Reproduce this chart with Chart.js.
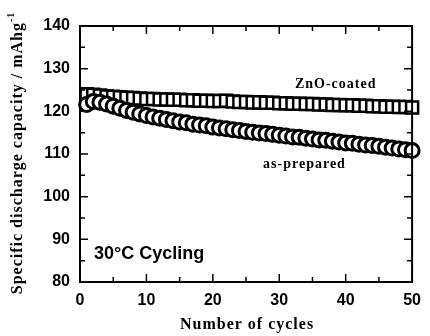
<!DOCTYPE html>
<html>
<head>
<meta charset="utf-8">
<script src="https://cdn.jsdelivr.net/npm/chart.js@4/dist/chart.umd.min.js"></script>
<style>
  html, body { margin: 0; padding: 0; background: #fff; }
  #wrap { width: 430px; height: 336px; position: relative; }
</style>
</head>
<body>
<div id="wrap"><canvas id="chart"></canvas></div>
<script>
// cycle numbers and discharge capacity (mAh/g)
const cycles = [1,2,3,4,5,6,7,8,9,10,11,12,13,14,15,16,17,18,19,20,21,22,23,24,25,
  26,27,28,29,30,31,32,33,34,35,36,37,38,39,40,41,42,43,44,45,46,47,48,49,50];

const znoCoated = [124.0,123.9,123.7,123.5,123.4,123.3,123.2,123.1,123.0,122.9,
  122.9,122.8,122.8,122.7,122.7,122.6,122.6,122.5,122.5,122.4,
  122.4,122.5,122.3,122.2,122.2,122.1,122.1,122.0,122.0,121.9,
  121.9,121.8,121.8,121.7,121.7,121.6,121.6,121.5,121.5,121.4,
  121.4,121.3,121.3,121.2,121.2,121.1,121.1,121.0,121.0,120.9];

const asPrepared = [121.6,122.3,122.1,121.7,121.2,120.7,120.2,119.8,119.4,119.0,
  118.7,118.4,118.1,117.8,117.5,117.3,117.0,116.8,116.6,116.3,
  116.1,115.9,115.7,115.5,115.3,115.1,114.9,114.8,114.6,114.4,
  114.2,114.0,113.9,113.7,113.5,113.3,113.2,113.0,112.8,112.6,
  112.5,112.3,112.1,112.0,111.8,111.6,111.4,111.2,111.0,110.8];

const xTicks = [0, 10, 20, 30, 40, 50];
const yTicks = [80, 90, 100, 110, 120, 130, 140];

const toPoints = (ys) => cycles.map((c, i) => ({ x: c, y: ys[i] }));

const serif = '"Liberation Serif", "Times New Roman", serif';
const sans = '"Liberation Sans", Arial, sans-serif';

// frame, inward ticks and the text labels
const decorPlugin = {
  id: 'decor',
  afterDraw(chart) {
    const ctx = chart.ctx;
    const { left, right, top, bottom } = chart.chartArea;
    const xs = chart.scales.x, ys = chart.scales.y;
    ctx.save();
    ctx.strokeStyle = '#000';
    ctx.lineWidth = 2;
    ctx.strokeRect(left, top, right - left, bottom - top);

    ctx.lineWidth = 1.5;
    ctx.beginPath();
    for (let v = 0; v <= 50; v += 5) {
      const px = xs.getPixelForValue(v);
      const len = v % 10 === 0 ? 8 : 5;
      ctx.moveTo(px, bottom); ctx.lineTo(px, bottom - len);
      ctx.moveTo(px, top); ctx.lineTo(px, top + len);
    }
    for (let v = 80; v <= 140; v += 5) {
      const py = ys.getPixelForValue(v);
      const len = v % 10 === 0 ? 8 : 5;
      ctx.moveTo(left, py); ctx.lineTo(left + len, py);
      ctx.moveTo(right, py); ctx.lineTo(right - len, py);
    }
    ctx.stroke();

    ctx.fillStyle = '#000';
    ctx.textBaseline = 'middle';
    ctx.textAlign = 'center';
    ctx.letterSpacing = '1px';
    ctx.font = 'bold 14px ' + serif;
    ctx.fillText('ZnO-coated', xs.getPixelForValue(38.5), ys.getPixelForValue(126.3));
    ctx.fillText('as-prepared', xs.getPixelForValue(33.8), ys.getPixelForValue(107.6));

    ctx.letterSpacing = '0px';
    ctx.textAlign = 'left';
    ctx.font = 'bold 18px ' + sans;
    ctx.fillText('30\u00B0C Cycling', xs.getPixelForValue(2.1), ys.getPixelForValue(86.6));

    // x axis title
    ctx.letterSpacing = '1px';
    ctx.textAlign = 'center';
    ctx.font = 'bold 16px ' + serif;
    ctx.fillText('Number of cycles', (left + right) / 2 + 1, 325);

    // y axis title, rotated, with superscript
    ctx.translate(18, 153);
    ctx.rotate(-Math.PI / 2);
    const main = 'Specific discharge capacity / mAhg';
    const sup = '-1';
    ctx.font = 'bold 16px ' + serif;
    const wMain = ctx.measureText(main).width;
    ctx.font = 'bold 10px ' + serif;
    const wSup = ctx.measureText(sup).width;
    const startX = -(wMain + wSup) / 2;
    ctx.textAlign = 'left';
    ctx.font = 'bold 16px ' + serif;
    ctx.fillText(main, startX, 0);
    ctx.font = 'bold 10px ' + serif;
    ctx.fillText(sup, startX + wMain, -7);
    ctx.restore();
  }
};

new Chart(document.getElementById('chart'), {
  type: 'scatter',
  data: {
    datasets: [
      {
        label: 'as-prepared',
        data: toPoints(asPrepared),
        pointStyle: 'circle',
        pointRadius: 7,
        borderWidth: 3,
        borderColor: '#000',
        backgroundColor: '#fff'
      },
      {
        label: 'ZnO-coated',
        data: toPoints(znoCoated),
        pointStyle: 'rect',
        pointRadius: 8.5,
        borderWidth: 2.5,
        borderColor: '#000',
        backgroundColor: '#fff'
      }
    ]
  },
  options: {
    responsive: true,
    maintainAspectRatio: false,
    animation: false,
    clip: false,
    layout: { padding: { top: 26, right: 6, left: 0, bottom: 0 } },
    plugins: { legend: { display: false }, tooltip: { enabled: false } },
    scales: {
      x: {
        type: 'linear',
        min: 0, max: 50,
        afterFit(scale) { scale.height = 54; },
        afterBuildTicks(scale) { scale.ticks = xTicks.map(v => ({ value: v })); },
        grid: { display: false, drawTicks: false },
        border: { display: false },
        ticks: {
          padding: 9,
          color: '#000',
          font: { family: sans, size: 16, weight: 'bold' }
        }
      },
      y: {
        type: 'linear',
        min: 80, max: 140,
        afterFit(scale) { scale.width = 80; },
        afterBuildTicks(scale) { scale.ticks = yTicks.map(v => ({ value: v })); },
        grid: { display: false, drawTicks: false },
        border: { display: false },
        ticks: {
          padding: 10,
          color: '#000',
          font: { family: sans, size: 16, weight: 'bold' }
        }
      }
    }
  },
  plugins: [decorPlugin]
});
</script>
</body>
</html>
